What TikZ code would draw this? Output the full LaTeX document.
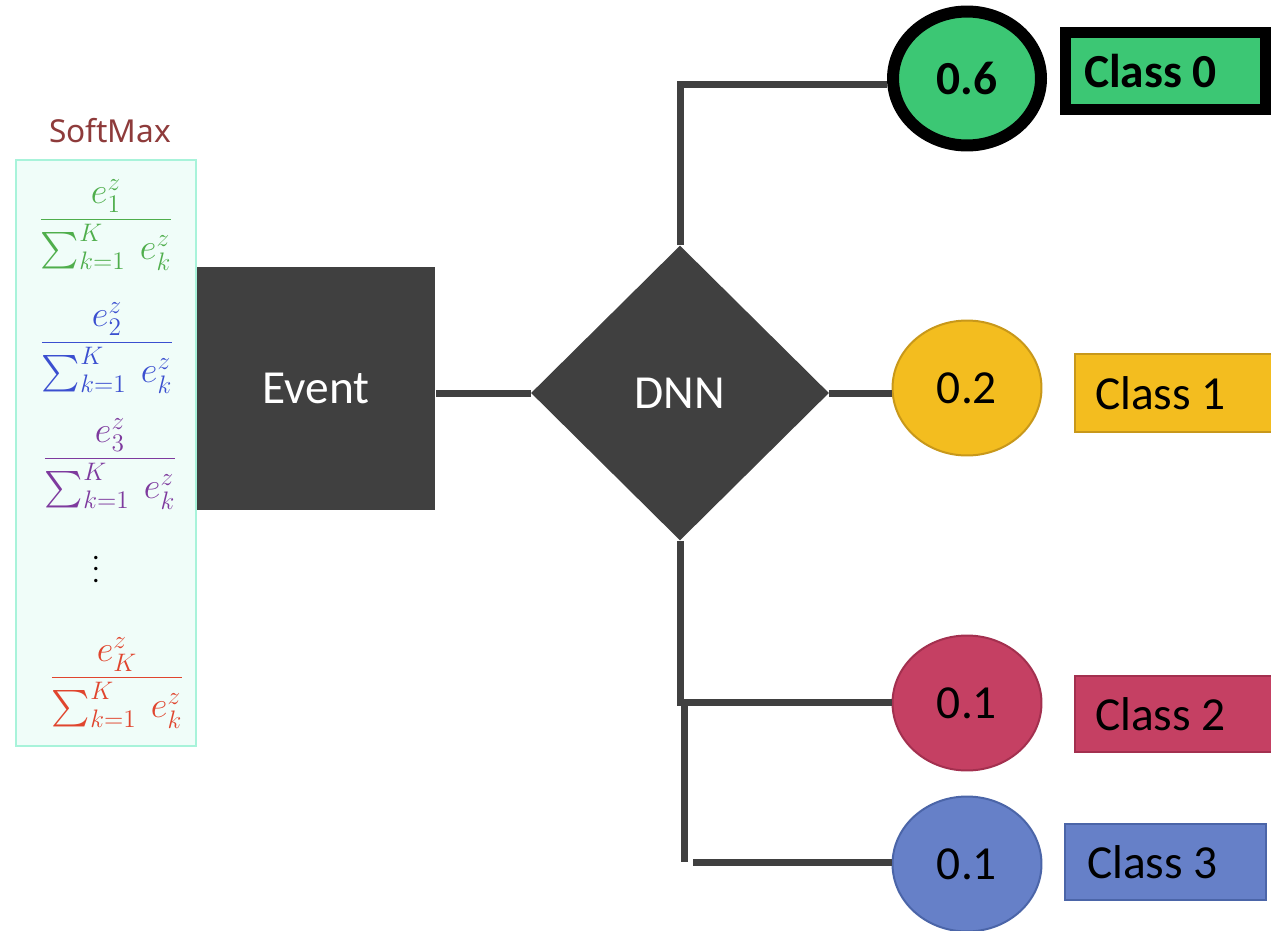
\documentclass[tikz,border=0pt]{standalone}
\usepackage{amsmath}
\usepackage{graphicx}
\usepackage{fontspec}
\setmainfont{Carlito}
\newfontfamily\smfont{Noto Sans}
\usetikzlibrary{shapes.geometric}
\definecolor{darkbox}{HTML}{404040}
\definecolor{mintfill}{HTML}{F0FDF9}
\definecolor{mintline}{HTML}{A8F3DA}
\definecolor{smtitle}{HTML}{8E3B3B}
\definecolor{fgreen}{HTML}{4FAE4C}
\definecolor{fblue}{HTML}{3B4FD0}
\definecolor{fpurple}{HTML}{7E3A9E}
\definecolor{fred}{HTML}{E0452E}
\definecolor{cgreen}{HTML}{3CC774}
\definecolor{cyellow}{HTML}{F3BD1F}
\definecolor{cyellowd}{HTML}{C8981A}
\definecolor{cred}{HTML}{C54063}
\definecolor{credd}{HTML}{A3304F}
\definecolor{cblue}{HTML}{6680C8}
\definecolor{cblued}{HTML}{4B65A8}
\newcommand\smfrac[2]{$\displaystyle\frac{e^{z}_{#1}}{\sum_{k=1}^{K}\ e^{z}_{#2}}$}
\newcommand\padr[1]{\rule{#1}{0pt}}
\begin{document}
\begin{tikzpicture}[x=0.02cm,y=-0.02cm,
  conn/.style={draw=darkbox,line width=0.14cm},
  darkshape/.style={fill=darkbox,text=white,font=\fontsize{27}{32}\selectfont,inner sep=0pt},
  prob/.style={ellipse,draw,line width=0.04cm,minimum width=2.98cm,minimum height=2.7cm,inner sep=0pt,font=\fontsize{27}{32}\selectfont},
  classbox/.style={rectangle,draw,line width=0.04cm,minimum height=1.54cm,inner sep=0pt,font=\fontsize{27}{32}\selectfont},
  frac/.style={inner sep=0pt,font=\fontsize{21}{25}\selectfont}]
\useasboundingbox (0,0) rectangle (1271,930);
% softmax panel
\node[font=\smfont\fontsize{18}{22}\selectfont,text=smtitle] (smt) at (110,131) {SoftMax};
\node[draw=mintline,fill=mintfill,line width=0.03cm,minimum width=3.6cm,minimum height=11.72cm,inner sep=0pt] (panel) at (106,453) {};
\node[frac,text=fgreen] (f1) at (106,225) {\smfrac{1}{k}};
\node[frac,text=fblue] (f2) at (107,348) {\smfrac{2}{k}};
\node[frac,text=fpurple] (f3) at (110,464) {\smfrac{3}{k}};
\node[inner sep=0pt] (dots) at (96,561) {\scalebox{1.6}{$\vdots$}};
\node[frac,text=fred] (f4) at (117,683) {\smfrac{K}{k}};
% event and DNN
\node[darkshape,minimum width=4.78cm,minimum height=4.86cm] (ev) at (316,388.5) {Event};
\node[darkshape,diamond,minimum width=5.96cm,minimum height=5.9cm] (dnn) at (680,393) {DNN};
% probability circles
\node[prob,fill=cgreen,draw=black,line width=0.24cm,minimum width=2.96cm,minimum height=2.68cm,font=\bfseries\fontsize{27}{32}\selectfont] (c0) at (967,78.5) {0.6};
\node[prob,fill=cyellow,draw=cyellowd] (c1) at (967,388) {0.2};
\node[prob,fill=cred,draw=credd] (c2) at (967,703) {0.1};
\node[prob,fill=cblue,draw=cblued] (c3) at (967,864) {0.1};
% class boxes (text shifted left by an invisible trailing rule)
\node[classbox,fill=cgreen,draw=black,line width=0.22cm,minimum width=4cm,minimum height=1.54cm,font=\bfseries\fontsize{27}{32}\selectfont] (k0) at (1165.5,71) {Class 0\padr{0.6cm}};
\node[classbox,fill=cyellow,draw=cyellowd,minimum width=4.02cm,minimum height=1.56cm] (k1) at (1175.5,393) {Class 1\padr{0.6cm}};
\node[classbox,fill=cred,draw=credd,minimum width=4.02cm,minimum height=1.52cm] (k2) at (1175.5,714) {Class 2\padr{0.6cm}};
\node[classbox,fill=cblue,draw=cblued,minimum width=4.02cm,minimum height=1.52cm] (k3) at (1165.5,862) {Class 3\padr{0.52cm}};
% connectors
\coordinate (t) at (680,84);
\coordinate (b1) at (680,702);
\coordinate (b2) at (684,699);
\coordinate (b3) at (684,862);
\coordinate (b4) at (693,862);
\draw[conn] (dnn.west -| ev.east) -- (dnn.west);
\draw[conn] (dnn.east) -- (dnn.east -| c1.west);
\draw[conn] (dnn.north) -- (t) -- (t -| c0.west);
\draw[conn] (dnn.south) -- (b1) -- (b1 -| c2.west);
\draw[conn] (b2) -- (b3);
\draw[conn] (b4) -- (b4 -| c3.west);
\end{tikzpicture}
\end{document}
